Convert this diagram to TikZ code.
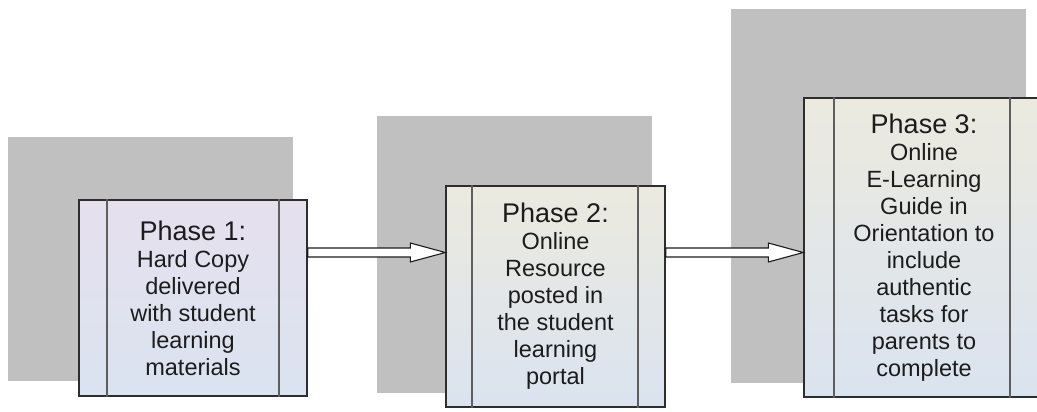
\documentclass[tikz,border=0pt]{standalone}
\usepackage{fontspec}
\setmainfont{Liberation Sans}
\usetikzlibrary{calc}

\definecolor{shadegray}{HTML}{C0C0C0}
\definecolor{edgegray}{HTML}{2E2E2E}
\definecolor{bargray}{HTML}{5E5E5E}
\definecolor{inkblack}{HTML}{1C1C1C}
\definecolor{lilactop}{HTML}{E6E0EE}
\definecolor{beigetop}{HTML}{ECEADF}
\definecolor{bluebottom}{HTML}{DAE3F0}

\newcommand{\phasehead}[1]{{\fontsize{27}{29}\selectfont #1}}

\begin{document}
\begin{tikzpicture}[x=1pt,y=-1pt,
    backdrop/.style={fill=shadegray, draw=none, inner sep=0pt},
    phase/.style={draw=edgegray, line width=1.4pt, inner sep=0pt, align=center,
      text=inkblack, bottom color=bluebottom,
      font=\fontsize{23.5}{27}\selectfont},
    divider/.style={draw=bargray, line width=1.8pt},
    hollow/.style={draw=inkblack, fill=white, line width=1.1pt, line join=miter,
      to path={let \p1=(\tikztostart), \p2=(\tikztotarget) in
        (\x1,\y1+4.5) -- (\x2-35,\y1+4.5) -- (\x2-35,\y1+9.5) -- (\x2,\y1)
        -- (\x2-35,\y1-9.5) -- (\x2-35,\y1-4.5) -- (\x1,\y1-4.5) -- cycle}}]
  \useasboundingbox (0,0) rectangle (1037,412);

  % grey panels behind the phases
  \node[backdrop, minimum width=285, minimum height=244] (SA) at (150.5,259) {};
  \node[backdrop, minimum width=275, minimum height=277] (SB) at (514.5,254.5) {};
  \node[backdrop, minimum width=295, minimum height=374] (SC) at (878.5,196) {};

  % phases
  \node[phase, top color=lilactop, bottom color=bluebottom,
    minimum width=228, minimum height=196] (PA) at (193,298)
    {\phasehead{Phase 1:}\\Hard Copy\\delivered\\with student\\learning\\materials};
  \node[phase, top color=beigetop, bottom color=bluebottom,
    minimum width=219, minimum height=221] (PB) at (555.5,296.5)
    {\phasehead{Phase 2:}\\Online\\Resource\\posted in\\the student\\learning\\portal};
  \node[phase, top color=beigetop, bottom color=bluebottom,
    minimum width=240, minimum height=299] (PC) at (924,247.5)
    {\phasehead{Phase 3:}\\Online\\E-Learning\\Guide in\\Orientation to\\include\\authentic\\tasks for\\parents to\\complete};

  \draw[divider] ([xshift=29]PA.north west) -- ([xshift=29]PA.south west);
  \draw[divider] ([xshift=-29]PA.north east) -- ([xshift=-29]PA.south east);
  \draw[divider] ([xshift=27]PB.north west) -- ([xshift=27]PB.south west);
  \draw[divider] ([xshift=-28]PB.north east) -- ([xshift=-28]PB.south east);
  \draw[divider] ([xshift=31]PC.north west) -- ([xshift=31]PC.south west);
  \draw[divider] ([xshift=-35]PC.north east) -- ([xshift=-35]PC.south east);

  % arrows
  \draw[hollow] ([yshift=45.5]PA.east) to (PB.west);
  \draw[hollow] ([yshift=44]PB.east) to (PC.west);
\end{tikzpicture}
\end{document}
